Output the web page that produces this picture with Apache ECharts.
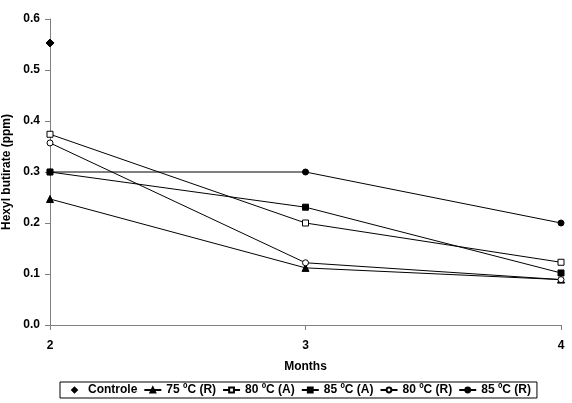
<!DOCTYPE html>
<html><head><meta charset="utf-8">
<script src="https://cdn.jsdelivr.net/npm/echarts@6/dist/echarts.min.js"></script>
<style>html,body{margin:0;padding:0;background:#fff}#c{width:572px;height:403px}</style>
</head><body><div id="c"></div>
<script>
const months = ['2', '3', '4'];
const controle = [0.553, null, null];
const r75 = [0.247, 0.112, 0.089];
const a80 = [0.374, 0.2, 0.123];
const a85 = [0.3, 0.231, 0.102];
const r80 = [0.357, 0.122, 0.089];
const r85 = [0.3, 0.3, 0.2];

const font = 'Arial, "Liberation Sans", sans-serif';
function mk(name, data, symbol, size, hollow) {
  return {
    name, type: 'line', data, symbol, symbolSize: size,
    showSymbol: true, connectNulls: false,
    lineStyle: {color: '#000', width: 1},
    itemStyle: {color: hollow ? '#fff' : '#000', borderColor: '#000', borderWidth: 1},
    emphasis: {disabled: true}
  };
}
const chart = echarts.init(document.getElementById('c'));
chart.setOption({
  animation: false,
  backgroundColor: '#fff',
  grid: {left: 50, right: 11, top: 19, bottom: 78, containLabel: false, outerBoundsMode: 'none'},
  xAxis: {
    type: 'category', data: months, boundaryGap: false,
    name: 'Months', nameLocation: 'middle', nameGap: 36,
    nameTextStyle: {fontFamily: font, fontWeight: 'bold', fontSize: 12, color: '#000'},
    axisLine: {lineStyle: {color: '#808080'}},
    axisTick: {alignWithLabel: true, length: 5, lineStyle: {color: '#808080'}},
    axisLabel: {fontFamily: font, fontWeight: 'bold', fontSize: 12, color: '#000', margin: 15}
  },
  yAxis: {
    type: 'value', min: 0, max: 0.6, interval: 0.1,
    name: 'Hexyl butirate (ppm)', nameLocation: 'middle', nameGap: 31,
    nameTextStyle: {fontFamily: font, fontWeight: 'bold', fontSize: 12, color: '#000'},
    axisLine: {show: true, lineStyle: {color: '#808080'}},
    axisTick: {show: true, length: 5, lineStyle: {color: '#808080'}},
    splitLine: {show: false},
    axisLabel: {fontFamily: font, fontWeight: 'bold', fontSize: 12, color: '#000', margin: 10,
      formatter: v => v.toFixed(1)}
  },
  legend: {
    left: 60, top: 382,
    itemGap: 6, itemWidth: 17, itemHeight: 6,
    padding: [2, 6, 2, 6],
    borderColor: '#000', borderWidth: 1,
    textStyle: {fontFamily: font, fontWeight: 'bold', fontSize: 12, color: '#000'},
    data: ['Controle', '75 ºC (R)', '80 ºC (A)', '85 ºC (A)', '80 ºC (R)', '85 ºC (R)']
  },
  series: [
    Object.assign(mk('Controle', controle, 'diamond', 8, false), {lineStyle: {width: 0, color: '#000'}}),
    mk('75 ºC (R)', r75, 'triangle', 7, false),
    mk('80 ºC (A)', a80, 'rect', 6, true),
    mk('85 ºC (A)', a85, 'rect', 6, false),
    mk('80 ºC (R)', r80, 'circle', 6, true),
    mk('85 ºC (R)', r85, 'circle', 6, false)
  ]
});
</script></body></html>
